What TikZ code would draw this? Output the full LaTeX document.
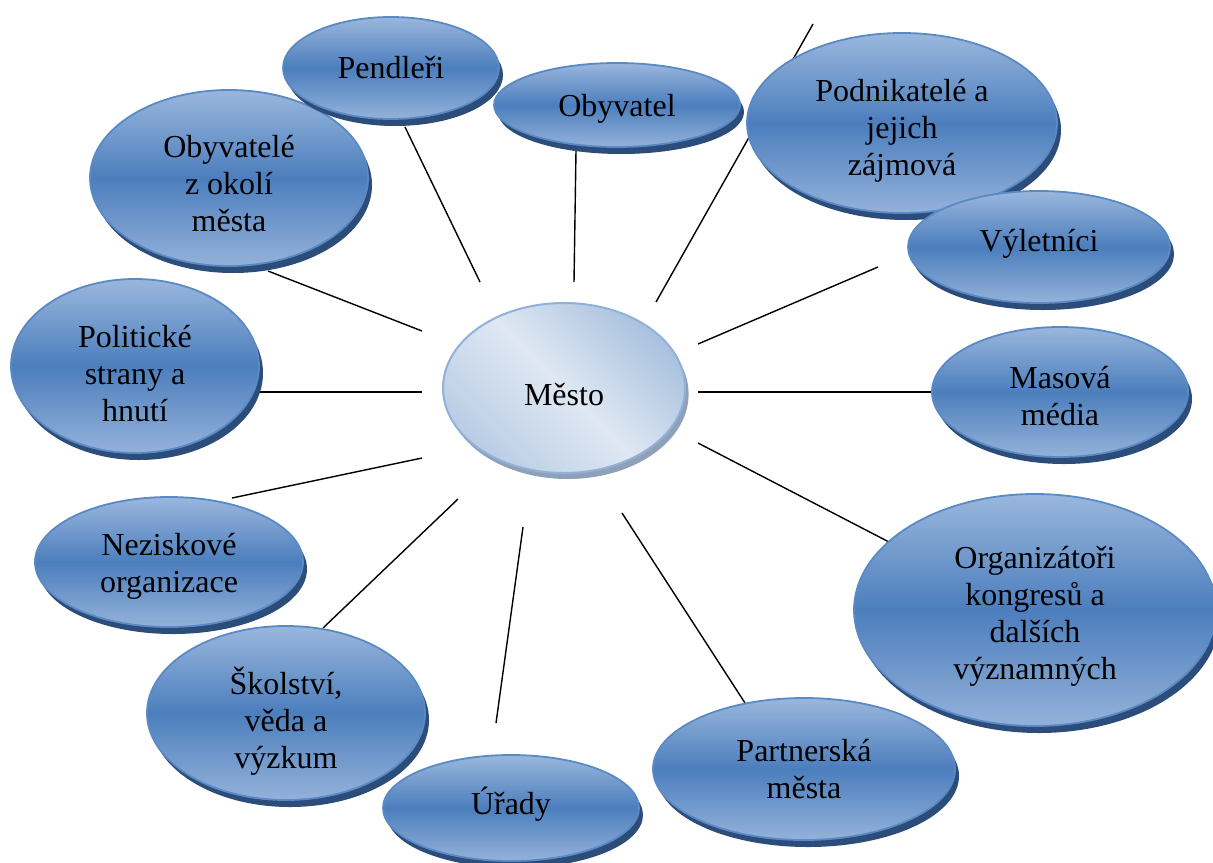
\documentclass[tikz,border=0pt]{standalone}
\usepackage{fontspec}
\setmainfont{Liberation Serif}
\newfontfamily\tnrfont{Liberation Serif}
\usetikzlibrary{shapes.geometric,shadows}
\pgfdeclarelayer{background}
\pgfsetlayers{background,main}
\definecolor{blobtop}{HTML}{9AB7DD}
\definecolor{blobmid}{HTML}{4C7EBD}
\definecolor{blobbot}{HTML}{94B2DA}
\definecolor{blobedge}{HTML}{5A8AC6}
\definecolor{blobshadow}{HTML}{2C4C7A}
\definecolor{cityA}{HTML}{A9C1DF}
\definecolor{cityB}{HTML}{DFE8F3}
\definecolor{cityC}{HTML}{BACDE5}
\definecolor{cityedge}{HTML}{8FB1DA}
\definecolor{cityshadow}{HTML}{8496AE}
\tikzset{
  blobtext/.style={align=center, inner sep=0pt, font=\tnrfont\fontsize{16}{18.5}\selectfont},
  blob/.style={ellipse, draw=blobedge, line width=0.9pt,
    top color=blobtop, bottom color=blobbot, middle color=blobmid,
    drop shadow={shadow xshift=2pt, shadow yshift=-3.5pt, fill=blobshadow, opacity=1},
    blobtext},
  city/.style={ellipse, draw=cityedge, line width=1pt,
    top color=cityA, bottom color=cityC, middle color=cityB, shading angle=-45,
    drop shadow={shadow xshift=1.8pt, shadow yshift=-3pt, fill=cityshadow, opacity=0.9},
    blobtext},
  conn/.style={line width=0.7pt, black},
  txt/.style 2 args={label={[blobtext, yshift=-#1]center:{#2}}}
}
\begin{document}
\begin{tikzpicture}[x=0.5pt,y=-0.5pt]
\useasboundingbox (0,0) rectangle (1213,862);
% central node
\node[city, minimum width=121pt, minimum height=85pt, txt={3.5pt}{Město}] (mesto) at (564,388) {};
% outer nodes
\node[blob, minimum width=139pt, minimum height=88pt, txt={3pt}{Obyvatelé\\z okolí\\města}] (obyokoli) at (229,178) {};
\node[blob, minimum width=108pt, minimum height=51pt, txt={0pt}{Pendleři}] (pend) at (391,68) {};
\node[blob, minimum width=123pt, minimum height=42pt, txt={2pt}{Obyvatel}] (obyv) at (617,105) {};
\node[blob, minimum width=155pt, minimum height=90pt, txt={4pt}{Podnikatelé a\\jejich\\zájmová}] (podn) at (902,123) {};
\node[blob, minimum width=131pt, minimum height=56pt, txt={-1.5pt}{Výletníci}] (vylet) at (1039,247) {};
\node[blob, minimum width=128pt, minimum height=65pt, txt={2pt}{Masová\\média}] (masova) at (1060,392) {};
\node[blob, minimum width=181pt, minimum height=116pt, txt={3pt}{Organizátoři\\kongresů a\\dalších\\významných}] (organ) at (1035,610) {};
\node[blob, minimum width=151pt, minimum height=71pt, txt={0pt}{Partnerská\\města}] (partner) at (804,769) {};
\node[blob, minimum width=139pt, minimum height=87pt, txt={4pt}{Školství,\\věda a\\výzkum}] (skol) at (286,713) {};
\node[blob, minimum width=128pt, minimum height=53pt, txt={-2pt}{Úřady}] (urady) at (511,808) {};
\node[blob, minimum width=134pt, minimum height=65pt, txt={2pt}{Neziskové\\organizace}] (nezisk) at (169,562) {};
\node[blob, minimum width=124pt, minimum height=87pt, txt={4pt}{Politické\\strany a\\hnutí}] (polit) at (135,366) {};
% connector end points
\coordinate (pend-o) at (405,127);   \coordinate (pend-m) at (480,282);
\coordinate (obyv-o) at (576,150);   \coordinate (obyv-m) at (574,282);
\coordinate (podn-o) at (813,24);    \coordinate (podn-m) at (656,302);
\coordinate (vylet-o) at (878,267);  \coordinate (vylet-m) at (698,344);
\coordinate (masova-o) at (935,392); \coordinate (masova-m) at (698,392);
\coordinate (organ-o) at (889,542);  \coordinate (organ-m) at (698,443);
\coordinate (partner-o) at (745,703);\coordinate (partner-m) at (622,513);
\coordinate (urady-o) at (496,723);  \coordinate (urady-m) at (523,527);
\coordinate (skol-o) at (323,628);   \coordinate (skol-m) at (458,499);
\coordinate (nezisk-o) at (232,498); \coordinate (nezisk-m) at (422,458);
\coordinate (polit-o) at (257,392);  \coordinate (polit-m) at (422,392);
\coordinate (okoli-o) at (268,271);  \coordinate (okoli-m) at (422,331);
\begin{pgfonlayer}{background}
\foreach \n in {pend,obyv,podn,vylet,masova,organ,partner,urady,skol,nezisk,polit,okoli}
  \draw[conn] (\n-o) -- (\n-m);
\end{pgfonlayer}
\end{tikzpicture}
\end{document}
